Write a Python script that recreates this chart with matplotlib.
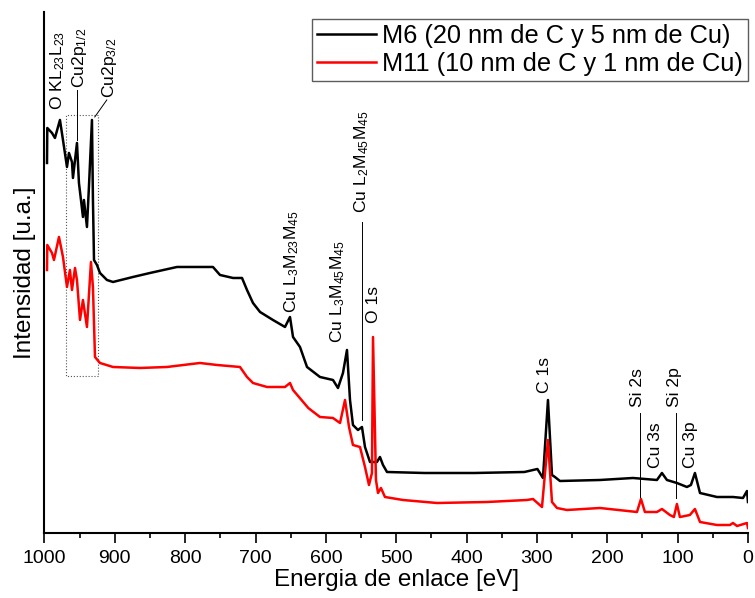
import numpy as np
import matplotlib
matplotlib.use('Agg')
import matplotlib.pyplot as plt
from matplotlib.patches import Rectangle

plt.rcParams['font.family'] = ['Liberation Sans', 'DejaVu Sans']
plt.rcParams['mathtext.default'] = 'regular'

# ---- data (binding energy eV, intensity a.u.) ----
e_m6 = [996.4, 996.0, 989.3, 985.1, 978.0, 973.7, 968.0, 965.2, 960.9, 959.5,
        953.8, 951.0, 948.1, 945.3, 943.9, 939.6, 936.8, 932.5, 931.1, 929.6,
        925.4, 921.1, 911.2, 902.6, 874.2, 850.0, 811.7, 789.0, 760.5, 750.5,
        732.0, 719.2, 712.1, 703.6, 693.6, 675.2, 658.1, 651.0, 646.7, 636.8,
        626.8, 608.4, 589.9, 582.8, 575.7, 570.0, 565.7, 561.5, 554.4, 548.7,
        544.4, 537.3, 527.4, 523.1, 518.8, 513.1, 459.9, 388.8, 317.8, 299.3,
        291.4, 284.3, 278.6, 274.4, 267.3, 210.4, 163.5, 129.4, 122.3, 115.2,
        101.0, 86.8, 81.1, 75.4, 68.2, 44.1, 21.3, 7.1, 1.4, 0.0]
i_m6 = [370, 405, 400, 395, 413, 393, 366, 380, 371, 355,
        390, 350, 333, 316, 333, 306, 346, 413, 333, 273,
        268, 260, 253, 251, 256, 260, 266, 266, 266, 258,
        255, 255, 243, 230, 221, 213, 206, 216, 196, 186,
        166, 156, 153, 145, 160, 183, 133, 108, 103, 106,
        86, 71, 71, 76, 68, 61, 60, 60, 61, 64,
        55, 133, 58, 56, 52, 53, 55, 53, 60, 53,
        50, 46, 48, 60, 40, 36, 36, 35, 42, 31]

e_m11 = [996.4, 996.0, 989.3, 986.5, 979.4, 973.7, 968.0, 963.8, 960.9, 956.6,
         953.8, 949.5, 945.3, 939.6, 933.9, 931.1, 928.2, 921.1, 902.6, 864.3,
         825.9, 779.0, 754.8, 722.1, 712.1, 703.6, 683.7, 658.1, 651.0, 646.7,
         625.0, 608.4, 589.9, 579.9, 572.8, 567.1, 561.5, 551.5, 544.4, 538.7,
         534.5, 533.0, 528.8, 525.9, 521.7, 516.0, 490.4, 442.1, 371.0, 314.1,
         305.6, 292.8, 284.3, 278.6, 271.5, 257.3, 210.4, 157.8, 152.1, 146.5,
         129.4, 122.3, 111.0, 105.3, 101.0, 96.8, 82.6, 75.4, 68.2, 44.1,
         25.6, 21.3, 15.6, 1.4, 0.0]
i_m11 = [263, 288, 280, 273, 296, 276, 246, 263, 243, 265,
         253, 213, 233, 206, 271, 246, 176, 170, 166, 165,
         166, 170, 168, 166, 156, 150, 146, 146, 150, 143,
         125, 116, 115, 110, 133, 106, 88, 86, 66, 48,
         60, 196, 53, 40, 45, 36, 33, 30, 31, 33,
         34, 26, 93, 31, 25, 23, 25, 21, 34, 21,
         21, 24, 18, 16, 29, 16, 18, 24, 11, 8,
         8, 10, 7, 10, 5]

series_names = ['M6 (20 nm de C y 5 nm de Cu)', 'M11 (10 nm de C y 1 nm de Cu)']
series_colors = ['black', '#ff0000']

# peak labels: text, energy, height of the text foot
peak_text = [r'O KL$_{23}$L$_{23}$', r'Cu2p$_{1/2}$', r'Cu2p$_{3/2}$',
             r'Cu L$_3$M$_{23}$M$_{45}$', r'Cu L$_3$M$_{45}$M$_{45}$',
             r'Cu L$_2$M$_{45}$M$_{45}$', 'O 1s', 'C 1s', 'Si 2s', 'Cu 3s',
             'Si 2p', 'Cu 3p']
peak_e = [981, 950, 907, 648, 583, 549, 533, 288.6, 157.7, 131, 104, 82.4]
peak_y = [423, 445, 435, 220, 190, 320, 210, 140, 126, 65, 126, 65]

# leader lines (E0, y0, E1, y1)
leader = [(953.8, 443, 953.8, 393), (928.5, 416, 911.4, 433),
          (548.7, 311, 548.7, 113), (153.5, 120, 153.5, 36),
          (102.4, 120, 102.4, 35)]
box_e = (923.9, 969.4)
box_y = (157, 418)

# ---- figure -------------------------------------------------------------------
fig = plt.figure(figsize=(7.55, 5.98), dpi=100)
ax = fig.add_axes([0.0589, 0.1087, 0.9318, 0.8713])
ax.plot(e_m6, i_m6, color=series_colors[0], lw=1.8, label=series_names[0])
ax.plot(e_m11, i_m11, color=series_colors[1], lw=1.8, label=series_names[1])

for t, e, y in zip(peak_text, peak_e, peak_y):
    ax.text(e, y, t, rotation=90, ha='center', va='bottom', fontsize=12.6)
for e0, y0, e1, y1 in leader:
    ax.plot([e0, e1], [y0, y1], color='black', lw=0.7)
ax.add_patch(Rectangle((box_e[0], box_y[0]), box_e[1] - box_e[0],
                       box_y[1] - box_y[0], fill=False, ls=':', lw=0.8,
                       ec='#555555'))

ax.set_xlim(1000, 0)
ax.set_ylim(0, 521)
ax.set_xticks(np.arange(0, 1001, 100))
ax.set_xticks(np.arange(50, 1000, 100), minor=True)
ax.set_yticks([])
for sp in ['top', 'right']:
    ax.spines[sp].set_visible(False)
for sp in ['left', 'bottom']:
    ax.spines[sp].set_linewidth(1.5)
ax.tick_params(axis='x', which='major', direction='out', length=7, width=1.2,
               labelsize=14, pad=5)
ax.tick_params(axis='x', which='minor', direction='out', length=3.6, width=1.2)
ax.set_xlabel('Energia de enlace [eV]', fontsize=17.5, labelpad=2)
ax.set_ylabel('Intensidad [u.a.]', fontsize=17.5, labelpad=6)

leg = ax.legend(loc='upper right', bbox_to_anchor=(1.0, 0.9866), fontsize=18.3,
                frameon=True, fancybox=False, borderaxespad=0, borderpad=0.2,
                labelspacing=0.17, handlelength=2.3, handletextpad=0.25)
leg.get_frame().set_edgecolor('#333333')
leg.get_frame().set_linewidth(1.0)

fig.savefig('out.png', dpi=100)
